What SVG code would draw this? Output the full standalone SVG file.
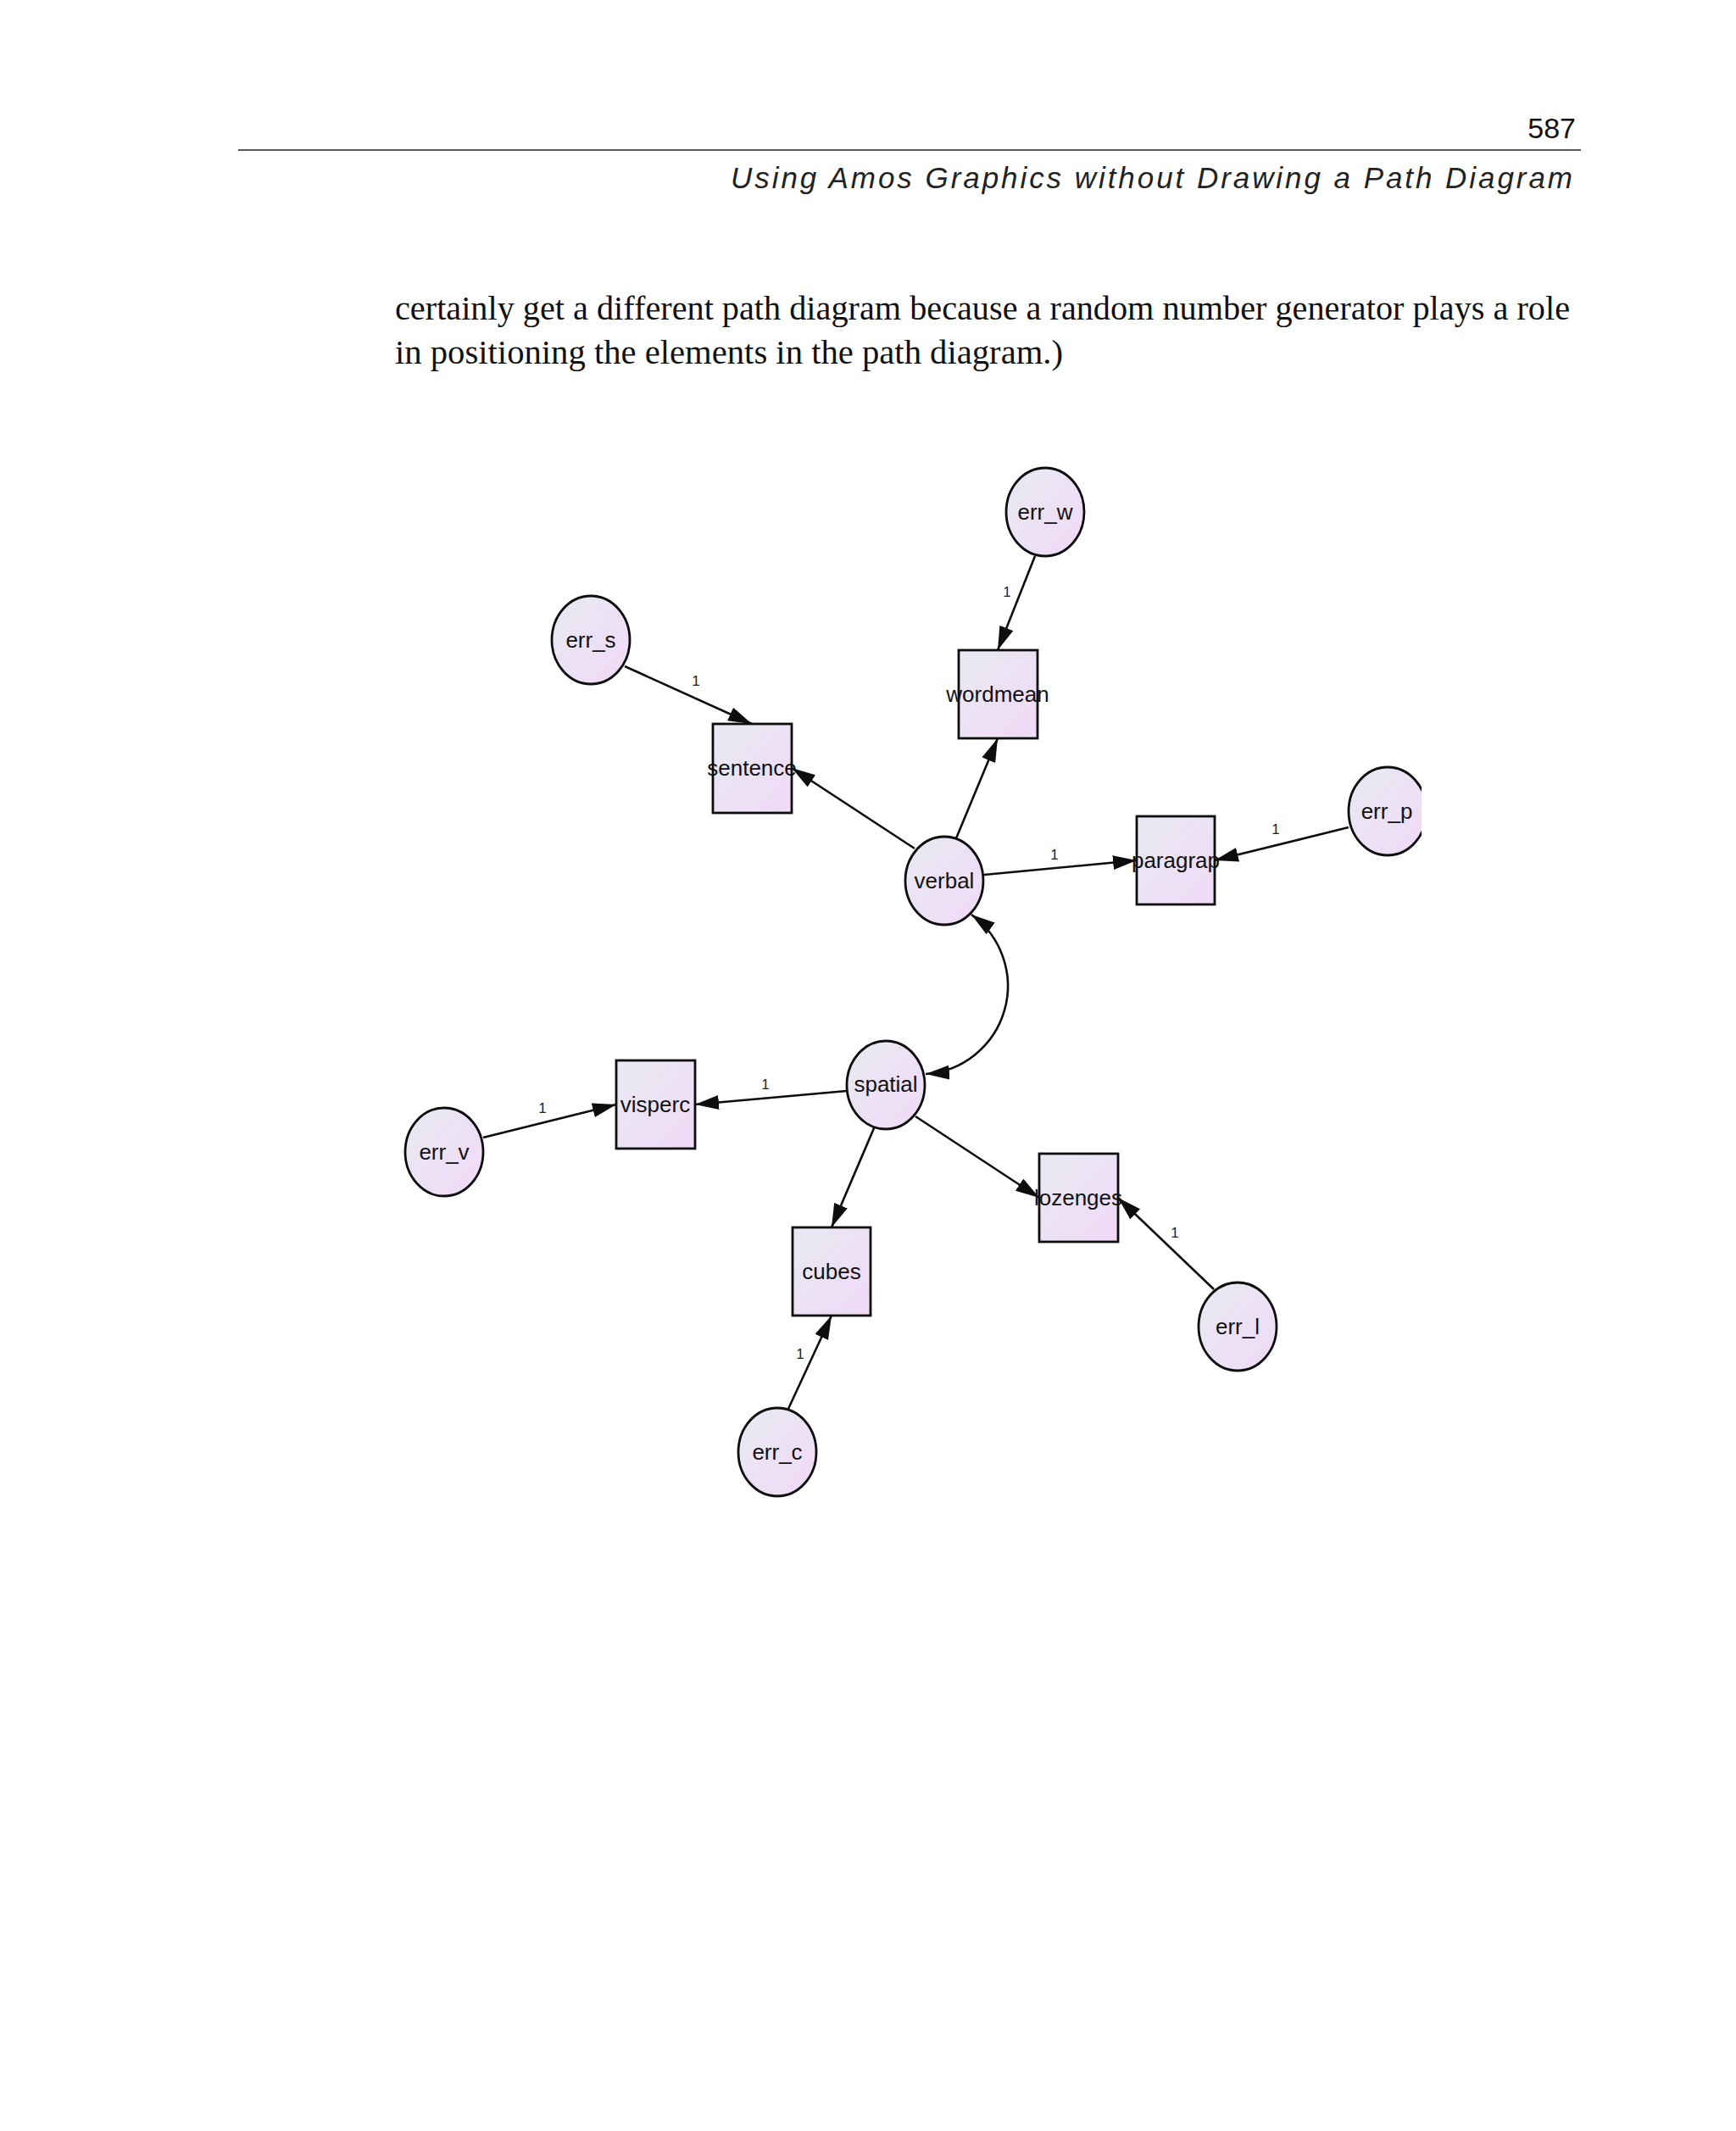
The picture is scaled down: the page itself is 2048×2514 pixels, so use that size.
<svg xmlns="http://www.w3.org/2000/svg" width="2048" height="2514" viewBox="0 0 2048 2514">
<style>
.node ellipse, .node rect { fill: url(#nodeFill); stroke: #0d0d0d; stroke-width: 2.8; }
.node text { font-family: "Liberation Sans", Arial, sans-serif; font-size: 26px; fill: #111; text-anchor: middle; }
.conn path, .conn line { fill: none; stroke: #0d0d0d; stroke-width: 2.6; }
.lbl { font-family: "Liberation Sans", Arial, sans-serif; font-size: 17px; fill: #222; text-anchor: middle; }
.body { font-family: "Liberation Serif", "Times New Roman", serif; font-size: 40px; fill: #111; }
</style>
<defs>
<linearGradient id="nodeFill" x1="0" y1="0" x2="1" y2="1">
<stop offset="0" stop-color="#e8eaf2"/>
<stop offset="1" stop-color="#f0d9f7"/>
</linearGradient>
<marker id="arr" viewBox="0 0 28 17" refX="28" refY="8.5" markerWidth="28" markerHeight="17" markerUnits="userSpaceOnUse" orient="auto-start-reverse">
<path d="M0,0 L28,8.5 L0,17 z" fill="#0d0d0d"/>
</marker>
<clipPath id="clipP"><rect x="0" y="0" width="1677" height="2514"/></clipPath>
</defs>
<rect width="2048" height="2514" fill="#ffffff"/>

<g id="header">
<text x="1859" y="163" font-family="'Liberation Sans', Arial, sans-serif" font-size="34" fill="#111" text-anchor="end">587</text>
<line x1="281" y1="177" x2="1865" y2="177" stroke="#222" stroke-width="1.6"/>
<text x="862" y="222" font-family="'Liberation Sans', Arial, sans-serif" font-size="35" font-style="italic" fill="#222" textLength="993" lengthAdjust="spacing">Using Amos Graphics without Drawing a Path Diagram</text>
</g>

<g id="bodytext">
<text class="body" x="466" y="377" textLength="1386" lengthAdjust="spacingAndGlyphs">certainly get a different path diagram because a random number generator plays a role</text>
<text class="body" x="466" y="429" textLength="788" lengthAdjust="spacingAndGlyphs">in positioning the elements in the path diagram.)</text>
</g>

<g id="connectors" class="conn">
<line x1="1221" y1="656" x2="1177" y2="767" marker-end="url(#arr)"/>
<line x1="737" y1="786" x2="887" y2="854" marker-end="url(#arr)"/>
<line x1="1079" y1="1001" x2="934" y2="906" marker-end="url(#arr)"/>
<line x1="1128" y1="989" x2="1177" y2="871" marker-end="url(#arr)"/>
<line x1="1161" y1="1032" x2="1341" y2="1015" marker-end="url(#arr)"/>
<line x1="1591" y1="976" x2="1433" y2="1015" marker-end="url(#arr)"/>
<path d="M1146,1079 A104,104 0 0 1 1092,1267" marker-start="url(#arr)" marker-end="url(#arr)"/>
<line x1="999" y1="1287" x2="820" y2="1303" marker-end="url(#arr)"/>
<line x1="570" y1="1342" x2="727" y2="1303" marker-end="url(#arr)"/>
<line x1="1031" y1="1331" x2="981" y2="1448" marker-end="url(#arr)"/>
<line x1="1080" y1="1317" x2="1226" y2="1413" marker-end="url(#arr)"/>
<line x1="930" y1="1662" x2="981" y2="1552" marker-end="url(#arr)"/>
<line x1="1432" y1="1521" x2="1319" y2="1413" marker-end="url(#arr)"/>
<text class="lbl" x="821" y="809">1</text>
<text class="lbl" x="1188" y="704">1</text>
<text class="lbl" x="1244" y="1014">1</text>
<text class="lbl" x="1505" y="984">1</text>
<text class="lbl" x="903" y="1285">1</text>
<text class="lbl" x="640" y="1313">1</text>
<text class="lbl" x="1386" y="1460">1</text>
<text class="lbl" x="944" y="1603">1</text>
</g>

<g id="err_w" class="node"><ellipse cx="1233" cy="604" rx="46" ry="52"/><text x="1233" y="613">err_w</text></g>
<g id="err_s" class="node"><ellipse cx="697" cy="755" rx="46" ry="52"/><text x="697" y="764">err_s</text></g>
<g id="err_p" class="node" clip-path="url(#clipP)"><ellipse cx="1637" cy="957" rx="46" ry="52"/><text x="1636" y="966">err_p</text></g>
<g id="verbal" class="node"><ellipse cx="1114" cy="1039" rx="46" ry="52"/><text x="1114" y="1048">verbal</text></g>
<g id="spatial" class="node"><ellipse cx="1045" cy="1280" rx="46" ry="52"/><text x="1045" y="1288">spatial</text></g>
<g id="err_v" class="node"><ellipse cx="524" cy="1359" rx="46" ry="52"/><text x="524" y="1368">err_v</text></g>
<g id="err_l" class="node"><ellipse cx="1460" cy="1565" rx="46" ry="52"/><text x="1460" y="1574">err_l</text></g>
<g id="err_c" class="node"><ellipse cx="917" cy="1713" rx="46" ry="52"/><text x="917" y="1722">err_c</text></g>

<g id="wordmean" class="node"><rect x="1131" y="767" width="93" height="104"/><text x="1177" y="828">wordmean</text></g>
<g id="sentence" class="node"><rect x="841" y="854" width="93" height="105"/><text x="887" y="915">sentence</text></g>
<g id="paragrap" class="node"><rect x="1341" y="963" width="92" height="104"/><text x="1387" y="1024">paragrap</text></g>
<g id="visperc" class="node"><rect x="727" y="1251" width="93" height="104"/><text x="773" y="1312">visperc</text></g>
<g id="cubes" class="node"><rect x="935" y="1448" width="92" height="104"/><text x="981" y="1509">cubes</text></g>
<g id="lozenges" class="node"><rect x="1226" y="1361" width="93" height="104"/><text x="1272" y="1422">lozenges</text></g>
</svg>
